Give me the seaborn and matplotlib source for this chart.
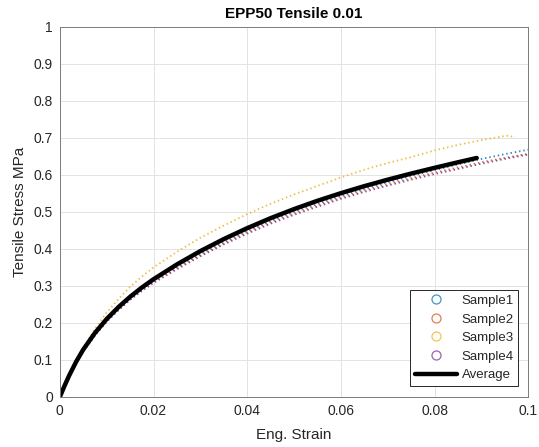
import numpy as np
import pandas as pd
import matplotlib
matplotlib.use("Agg")
import matplotlib.pyplot as plt
from matplotlib.lines import Line2D
import seaborn as sns

# ---------------- data ----------------
strain_s = [0, 0.001, 0.002, 0.0035, 0.005, 0.0075, 0.01, 0.0125, 0.015, 0.0175,
            0.02, 0.025, 0.03, 0.035, 0.04, 0.045, 0.05, 0.055, 0.06, 0.065,
            0.07, 0.075, 0.08, 0.085, 0.09, 0.095, 0.1]
sample1 = [0, 0.029, 0.057, 0.094, 0.126, 0.170, 0.207, 0.239, 0.267, 0.291,
           0.313, 0.351, 0.386, 0.418, 0.448, 0.475, 0.500, 0.522, 0.543, 0.562,
           0.580, 0.597, 0.613, 0.628, 0.643, 0.656, 0.668]
sample2 = [0, 0.028, 0.056, 0.093, 0.124, 0.167, 0.205, 0.236, 0.264, 0.289,
           0.311, 0.348, 0.383, 0.415, 0.445, 0.472, 0.496, 0.518, 0.539, 0.558,
           0.575, 0.591, 0.606, 0.620, 0.634, 0.646, 0.657]
sample4 = [0, 0.028, 0.055, 0.092, 0.123, 0.166, 0.203, 0.234, 0.262, 0.286,
           0.308, 0.345, 0.380, 0.412, 0.441, 0.468, 0.492, 0.514, 0.535, 0.554,
           0.571, 0.587, 0.602, 0.616, 0.630, 0.643, 0.655]
strain_3 = [0, 0.001, 0.002, 0.0035, 0.005, 0.0075, 0.01, 0.0125, 0.015, 0.0175,
            0.02, 0.025, 0.03, 0.035, 0.04, 0.045, 0.05, 0.055, 0.06, 0.065,
            0.07, 0.075, 0.08, 0.085, 0.09, 0.095, 0.096, 0.0972]
sample3 = [0, 0.030, 0.059, 0.098, 0.133, 0.184, 0.228, 0.264, 0.297, 0.325,
           0.350, 0.392, 0.430, 0.463, 0.494, 0.522, 0.547, 0.570, 0.593, 0.614,
           0.632, 0.648, 0.666, 0.681, 0.694, 0.705, 0.706, 0.700]
strain_avg = [0, 0.001, 0.002, 0.0035, 0.005, 0.0075, 0.01, 0.0125, 0.015, 0.0175,
              0.02, 0.025, 0.03, 0.035, 0.04, 0.045, 0.05, 0.055, 0.06, 0.065,
              0.07, 0.075, 0.08, 0.085, 0.089]
average = [0, 0.030, 0.058, 0.0955, 0.128, 0.173, 0.2105, 0.2425, 0.2705, 0.2955,
           0.318, 0.358, 0.394, 0.4265, 0.456, 0.483, 0.5075, 0.530, 0.5505, 0.5695,
           0.587, 0.6035, 0.619, 0.634, 0.6456]

labels = ["Sample1", "Sample2", "Sample3", "Sample4"]
colors = ["#0072BD", "#D95319", "#EDB120", "#7E2F8E"]
x_ticks = [0, 0.02, 0.04, 0.06, 0.08, 0.1]
x_tick_labels = ["0", "0.02", "0.04", "0.06", "0.08", "0.1"]
y_ticks = [0, 0.1, 0.2, 0.3, 0.4, 0.5, 0.6, 0.7, 0.8, 0.9, 1.0]
y_tick_labels = ["0", "0.1", "0.2", "0.3", "0.4", "0.5", "0.6", "0.7", "0.8", "0.9", "1"]

# ---------------- build long table ----------------
frames = []
for lab, xs, ys in [("Sample1", strain_s, sample1), ("Sample2", strain_s, sample2),
                    ("Sample3", strain_3, sample3), ("Sample4", strain_s, sample4)]:
    frames.append(pd.DataFrame({"strain": xs, "stress": ys, "series": lab}))
df = pd.concat(frames, ignore_index=True)
df_avg = pd.DataFrame({"strain": strain_avg, "stress": average})

# ---------------- style ----------------
sns.set_style("white")
plt.rcParams["font.family"] = ["Liberation Sans", "DejaVu Sans"]

fig = plt.figure(figsize=(5.39, 4.47), dpi=100)
ax = fig.add_axes([0.111, 0.112, 0.869, 0.828])

sns.lineplot(data=df, x="strain", y="stress", hue="series", hue_order=labels,
             palette=dict(zip(labels, colors)), sort=False, estimator=None,
             linewidth=1.3, ax=ax, legend=False)
for line in ax.get_lines():
    line.set_linestyle((0, (0.8, 1.6)))
    line.set_alpha(0.85)

sns.lineplot(data=df_avg, x="strain", y="stress", color="black", linewidth=3.2,
             sort=False, estimator=None, ax=ax, legend=False)

ax.set_xlim(0, 0.1)
ax.set_ylim(0, 1)
ax.set_xticks(x_ticks)
ax.set_xticklabels(x_tick_labels)
ax.set_yticks(y_ticks)
ax.set_yticklabels(y_tick_labels)
ax.tick_params(direction="in", length=3, width=0.6, colors="#262626",
               labelsize=10, labelcolor="#262626", pad=5)
ax.grid(True, color="#e3e3e3", linewidth=0.7)
ax.set_axisbelow(True)
for s in ax.spines.values():
    s.set_color("#7a7a7a")
    s.set_linewidth(0.7)

ax.set_xlabel("Eng. Strain", fontsize=11, color="#262626", labelpad=7)
ax.set_ylabel("Tensile Stress MPa", fontsize=11, color="#262626", labelpad=5)
ax.set_title("EPP50 Tensile 0.01", fontsize=11, fontweight="bold", color="black", pad=6)

handles = [Line2D([], [], linestyle="none", marker="o", markersize=6.5,
                  markerfacecolor="none", markeredgecolor=c, markeredgewidth=0.9,
                  alpha=0.75)
           for c in colors]
handles.append(Line2D([], [], color="black", linewidth=3.2))
leg = ax.legend(handles, labels + ["Average"], loc="lower right",
                bbox_to_anchor=(0.979, 0.030), fontsize=9.5, frameon=True,
                fancybox=False, framealpha=1, edgecolor="#262626",
                handlelength=3.2, handletextpad=0.35, labelspacing=0.48,
                borderpad=0.35, borderaxespad=0.0)
leg.get_frame().set_linewidth(0.7)

fig.savefig("out.png", dpi=100)
